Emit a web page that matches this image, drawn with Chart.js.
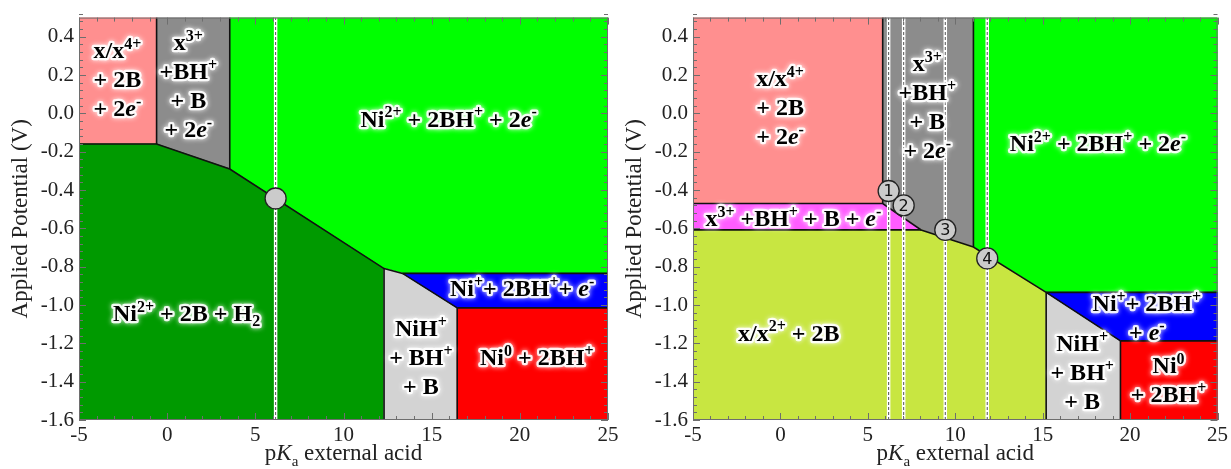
<!DOCTYPE html>
<html>
<head>
<meta charset="utf-8">
<script src="https://cdn.jsdelivr.net/npm/chart.js@4.4.1/dist/chart.umd.min.js"></script>
<style>
  html, body { margin: 0; padding: 0; background: #ffffff; }
  #wrap { position: relative; width: 1231px; height: 469px; overflow: hidden; }
  #wrap canvas { position: absolute; left: 0; top: 0; }
</style>
</head>
<body>
<div id="wrap">
  <canvas id="chartLeft" width="1231" height="469"></canvas>
  <canvas id="chartRight" width="1231" height="469"></canvas>
</div>
<script>
// ---- axes ----------------------------------------------------------------
const X_MIN = -5, X_MAX = 25;          // pKa of the external acid
const Y_MIN = -1.6, Y_MAX = 0.5;       // applied potential, V
const xTickValues = [-5, 0, 5, 10, 15, 20, 25];
const yTickValues = [-1.6, -1.4, -1.2, -1.0, -0.8, -0.6, -0.4, -0.2, 0.0, 0.2, 0.4];

// ---- left diagram: phase regions as [pKa, V] vertices ---------------------
const leftPink      = [[-5, 0.5], [-0.6, 0.5], [-0.6, -0.16], [-5, -0.16]];
const leftGray      = [[-0.6, 0.5], [3.55, 0.5], [3.55, -0.29], [-0.6, -0.16]];
const leftGreen     = [[3.55, 0.5], [25, 0.5], [25, -0.835], [13.35, -0.835], [12.3, -0.81], [3.55, -0.29]];
const leftDarkGreen = [[-5, -0.16], [-0.6, -0.16], [3.55, -0.29], [12.3, -0.81], [12.3, -1.6], [-5, -1.6]];
const leftLightGray = [[12.3, -0.81], [13.35, -0.835], [16.45, -1.015], [16.45, -1.6], [12.3, -1.6]];
const leftBlue      = [[13.35, -0.835], [25, -0.835], [25, -1.015], [16.45, -1.015]];
const leftRed       = [[16.45, -1.015], [25, -1.015], [25, -1.6], [16.45, -1.6]];

const leftBoundaries = [
  [[-0.6, 0.5], [-0.6, -0.16]],
  [[-5, -0.16], [-0.6, -0.16], [3.55, -0.29], [12.3, -0.81], [13.35, -0.835], [16.45, -1.015]],
  [[3.55, 0.5], [3.55, -0.29]],
  [[12.3, -0.81], [12.3, -1.6]],
  [[13.35, -0.835], [25, -0.835]],
  [[16.45, -1.015], [25, -1.015]],
  [[16.45, -1.015], [16.45, -1.6]]
];

const leftMarkerPKa = [6.15];
const leftMarkerV   = [-0.444];
const leftMarkerTag = [''];

// ---- right diagram ---------------------------------------------------------
const rightPink       = [[-5, 0.5], [5.85, 0.5], [5.85, -0.47], [-5, -0.47]];
const rightGray       = [[5.85, 0.5], [11.04, 0.5], [11.04, -0.697], [8.05, -0.608], [5.85, -0.47]];
const rightMagenta    = [[-5, -0.47], [5.85, -0.47], [8.05, -0.608], [-5, -0.608]];
const rightGreen      = [[11.04, 0.5], [25, 0.5], [25, -0.934], [15.2, -0.934], [11.04, -0.697]];
const rightYellow     = [[-5, -0.608], [8.05, -0.608], [11.04, -0.697], [15.2, -0.934], [15.2, -1.6], [-5, -1.6]];
const rightLightGray  = [[15.2, -0.934], [19.45, -1.187], [19.45, -1.6], [15.2, -1.6]];
const rightBlue       = [[15.2, -0.934], [25, -0.934], [25, -1.187], [19.45, -1.187]];
const rightRed        = [[19.45, -1.187], [25, -1.187], [25, -1.6], [19.45, -1.6]];

const rightBoundaries = [
  [[5.85, 0.5], [5.85, -0.47]],
  [[-5, -0.47], [5.85, -0.47], [8.05, -0.608], [11.04, -0.697], [15.2, -0.934], [19.45, -1.187]],
  [[-5, -0.608], [8.05, -0.608]],
  [[11.04, 0.5], [11.04, -0.697]],
  [[15.2, -0.934], [25, -0.934]],
  [[15.2, -0.934], [15.2, -1.6]],
  [[19.45, -1.187], [25, -1.187]],
  [[19.45, -1.187], [19.45, -1.6]]
];

const rightMarkerPKa = [6.19, 7.05, 9.43, 11.83];
const rightMarkerV   = [-0.405, -0.48, -0.608, -0.757];
const rightMarkerTag = ['1', '2', '3', '4'];

// ---- region names (rich text: ^{} superscript, _{} subscript, *..* italic) --
const leftLabels = [
  { x: -2.82, y: 0.179,  lines: ['x/x^{4+}', '+ 2B', '+ 2*e*^{-}'] },
  { x: 1.2,   y: 0.143,  lines: ['x^{3+}', '+BH^{+}', '+ B', '+ 2*e*^{-}'] },
  { x: 15.96, y: -0.027, lines: ['Ni^{2+} + 2BH^{+} + 2*e*^{-}'] },
  { x: 1.10,  y: -1.041, lines: ['Ni^{2+} + 2B + H_{2}'] },
  { x: 20.13, y: -0.912, lines: ['Ni^{+}+ 2BH^{+}+ *e*^{-}'] },
  { x: 14.39, y: -1.273, lines: ['NiH^{+}', '+ BH^{+}', '+ B'] },
  { x: 20.96, y: -1.273, lines: ['Ni^{0} + 2BH^{+}'] }
];
const rightLabels = [
  { x: -0.02, y: 0.035,  lines: ['x/x^{4+}', '+ 2B', '+ 2*e*^{-}'] },
  { x: 8.40,  y: 0.035,  lines: ['x^{3+}', '+BH^{+}', '+ B', '+ 2*e*^{-}'] },
  { x: 18.16, y: -0.156, lines: ['Ni^{2+} + 2BH^{+} + 2*e*^{-}'] },
  { x: 0.74,  y: -0.548, lines: ['x^{3+} +BH^{+} + B + *e*^{-}'] },
  { x: 0.475, y: -1.144, lines: ['x/x^{2+} + 2B'] },
  { x: 20.96, y: -1.067, lines: ['Ni^{+}+ 2BH^{+}', '+ *e*^{-}'] },
  { x: 17.26, y: -1.352, lines: ['NiH^{+}', '+ BH^{+}', '+ B'] },
  { x: 22.2,  y: -1.388, lines: ['Ni^{0}', '+ 2BH^{+}'] }
];

// ---- styling -----------------------------------------------------------------
const SERIF = '"Liberation Serif", "Times New Roman", serif';
const COLORS = {
  pink: '#ff8f8f', gray: '#8c8c8c', green: '#00ff00', darkGreen: '#009a00',
  lightGray: '#d3d3d3', blue: '#0000ff', red: '#ff0000',
  magenta: '#ff5cff', yellowGreen: '#c8e641',
  edge: '#111111', frame: '#6e6e6e'
};
const LABEL_SIZE = 24;
const LINE_GAP = 29;

const toXY = pts => pts.map(([x, y]) => ({ x, y }));

function regionSet(pts, color) {
  return {
    type: 'line', data: toXY(pts.concat([pts[0]])),
    backgroundColor: color, borderColor: color, borderWidth: 1,
    fill: 'shape', pointRadius: 0, tension: 0
  };
}
function edgeSet(pts) {
  return {
    type: 'line', data: toXY(pts), borderColor: COLORS.edge, borderWidth: 1.6,
    fill: false, pointRadius: 0, tension: 0
  };
}
function guideSets(xs) {
  const out = [];
  xs.forEach(x => {
    const pts = [[x, Y_MIN], [x, Y_MAX]];
    out.push({ type: 'line', data: toXY(pts), borderColor: '#ffffff', borderWidth: 3.5,
               fill: false, pointRadius: 0 });
    out.push({ type: 'line', data: toXY(pts), borderColor: '#555555', borderWidth: 1,
               borderDash: [3, 2], fill: false, pointRadius: 0 });
  });
  return out;
}
function markerSet(xs, ys) {
  return {
    type: 'line', showLine: false, data: xs.map((x, i) => ({ x, y: ys[i] })),
    pointRadius: 10.5, pointBackgroundColor: '#cbcbcb', pointBorderColor: '#222222',
    pointBorderWidth: 1.3, clip: false
  };
}

// Rich text ----------------------------------------------------------------
function parseRich(s) {
  const segs = [];
  let i = 0;
  while (i < s.length) {
    const c = s[i];
    if ((c === '^' || c === '_') && s[i + 1] === '{') {
      const j = s.indexOf('}', i);
      segs.push({ t: s.slice(i + 2, j), pos: c === '^' ? 'sup' : 'sub' });
      i = j + 1;
    } else if (c === '*') {
      const j = s.indexOf('*', i + 1);
      segs.push({ t: s.slice(i + 1, j), pos: 'base', it: true });
      i = j + 1;
    } else {
      let j = i;
      while (j < s.length && !((s[j] === '^' || s[j] === '_') && s[j + 1] === '{') && s[j] !== '*') j++;
      segs.push({ t: s.slice(i, j), pos: 'base' });
      i = j;
    }
  }
  return segs;
}

function drawRich(ctx, str, cx, cy, size) {
  const segs = parseRich(str);
  const small = Math.round(size * 0.68);
  const fontOf = sg => (sg.it ? 'italic ' : '') + 'bold ' + (sg.pos === 'base' ? size : small) + 'px ' + SERIF;
  let total = 0;
  segs.forEach(sg => { ctx.font = fontOf(sg); sg.w = ctx.measureText(sg.t).width; total += sg.w; });
  const base = cy + size * 0.33;
  const yOf = sg => sg.pos === 'sup' ? base - size * 0.38 : sg.pos === 'sub' ? base + size * 0.2 : base;
  ctx.textAlign = 'left';
  ctx.textBaseline = 'alphabetic';
  // soft white halo
  ctx.save();
  ctx.shadowColor = 'rgba(255,255,255,0.95)';
  ctx.shadowBlur = 5;
  ctx.strokeStyle = 'rgba(255,255,255,0.9)';
  ctx.lineWidth = 4.5;
  ctx.lineJoin = 'round';
  let x = cx - total / 2;
  segs.forEach(sg => { ctx.font = fontOf(sg); ctx.strokeText(sg.t, x, yOf(sg)); x += sg.w; });
  ctx.restore();
  ctx.fillStyle = '#000000';
  x = cx - total / 2;
  segs.forEach(sg => { ctx.font = fontOf(sg); ctx.fillText(sg.t, x, yOf(sg)); x += sg.w; });
}

// Plugins ------------------------------------------------------------------
const frameTicks = {
  id: 'frameTicks',
  afterDatasetsDraw(chart) {
    const { ctx, chartArea: a, scales: { x, y } } = chart;
    ctx.save();
    ctx.strokeStyle = COLORS.frame;
    ctx.lineWidth = 1;
    ctx.beginPath();
    for (let k = 0; k <= (X_MAX - X_MIN); k++) {
      const v = X_MIN + k;
      const px = Math.round(x.getPixelForValue(v)) + 0.5;
      const len = (v % 5 === 0) ? 7 : 4;
      ctx.moveTo(px, a.bottom); ctx.lineTo(px, a.bottom - len);
      ctx.moveTo(px, a.top);    ctx.lineTo(px, a.top + len);
    }
    const nY = Math.round((Y_MAX - Y_MIN) / 0.04);
    for (let k = 0; k <= nY; k++) {
      const v = Y_MIN + k * 0.04;
      const py = Math.round(y.getPixelForValue(v)) + 0.5;
      const len = (k % 5 === 0) ? 7 : 4;
      ctx.moveTo(a.left, py);  ctx.lineTo(a.left + len, py);
      ctx.moveTo(a.right, py); ctx.lineTo(a.right - len, py);
    }
    ctx.stroke();
    ctx.strokeRect(a.left + 0.5, a.top + 0.5, a.width - 1, a.height - 1);
    ctx.restore();
  }
};

const regionText = {
  id: 'regionText',
  afterDraw(chart, args, opts) {
    const { ctx, chartArea: a, scales: { x, y } } = chart;
    ctx.save();
    (opts.labels || []).forEach(lb => {
      const cx = x.getPixelForValue(lb.x);
      const cy = y.getPixelForValue(lb.y);
      const n = lb.lines.length;
      lb.lines.forEach((ln, i) => drawRich(ctx, ln, cx, cy + (i - (n - 1) / 2) * LINE_GAP, LABEL_SIZE));
    });
    // numbered markers
    ctx.fillStyle = '#111111';
    ctx.font = '16px "DejaVu Sans", sans-serif';
    ctx.textAlign = 'center';
    ctx.textBaseline = 'middle';
    (opts.tags || []).forEach(tg => {
      if (!tg.t) return;
      ctx.fillText(tg.t, x.getPixelForValue(tg.x), y.getPixelForValue(tg.y) + 1);
    });
    // axis titles
    ctx.fillStyle = '#222222';
    ctx.save();
    ctx.translate(a.left - 58, (a.top + a.bottom) / 2);
    ctx.rotate(-Math.PI / 2);
    ctx.font = '23px ' + SERIF;
    ctx.textAlign = 'center';
    ctx.textBaseline = 'middle';
    ctx.fillText('Applied Potential (V)', 0, 0);
    ctx.restore();
    const parts = [
      { t: 'p', f: '23px ' + SERIF, dy: 0 },
      { t: 'K', f: 'italic 23px ' + SERIF, dy: 0 },
      { t: 'a', f: '15px ' + SERIF, dy: 6 },
      { t: ' external acid', f: '23px ' + SERIF, dy: 0 }
    ];
    let w = 0;
    parts.forEach(p => { ctx.font = p.f; p.w = ctx.measureText(p.t).width; w += p.w; });
    let px = (a.left + a.right) / 2 - w / 2;
    ctx.textAlign = 'left';
    ctx.textBaseline = 'alphabetic';
    parts.forEach(p => { ctx.font = p.f; ctx.fillText(p.t, px, 460 + p.dy); px += p.w; });
    ctx.restore();
  }
};

function makeChart(canvasId, regions, boundaries, guidesX, mX, mY, tags, labels, pad, yWidth) {
  const layers = [];
  regions.forEach(r => layers.push(regionSet(r[0], r[1])));
  boundaries.forEach(b => layers.push(edgeSet(b)));
  guideSets(guidesX).forEach(g => layers.push(g));
  layers.push(markerSet(mX, mY));
  const datasets = layers.reverse();   // first dataset is painted last (on top)

  const tickFont = { family: SERIF, size: 21 };
  return new Chart(document.getElementById(canvasId), {
    type: 'line',
    data: { datasets },
    options: {
      responsive: false, animation: false, events: [],
      layout: { padding: pad },
      plugins: {
        legend: { display: false }, tooltip: { enabled: false },
        regionText: { labels, tags: mX.map((x, i) => ({ x, y: mY[i], t: tags[i] })) }
      },
      scales: {
        x: {
          type: 'linear', min: X_MIN, max: X_MAX,
          afterBuildTicks: s => { s.ticks = xTickValues.map(v => ({ value: v })); },
          afterFit: s => { s.height = 49; },
          grid: { display: false, drawTicks: false }, border: { display: false },
          ticks: { padding: 3, color: '#222222', font: tickFont, maxRotation: 0, autoSkip: false,
                   callback: v => String(v) }
        },
        y: {
          type: 'linear', min: Y_MIN, max: Y_MAX,
          afterBuildTicks: s => { s.ticks = yTickValues.map(v => ({ value: v })); },
          afterFit: s => { s.width = yWidth; },
          grid: { display: false, drawTicks: false }, border: { display: false },
          ticks: { padding: 5, color: '#222222', font: tickFont, autoSkip: false,
                   callback: v => (Math.abs(v) < 1e-9 ? 0 : v).toFixed(1) }
        }
      }
    },
    plugins: [frameTicks, regionText]
  });
}

makeChart('chartLeft',
  [[leftPink, COLORS.pink], [leftGray, COLORS.gray], [leftGreen, COLORS.green],
   [leftDarkGreen, COLORS.darkGreen], [leftLightGray, COLORS.lightGray],
   [leftBlue, COLORS.blue], [leftRed, COLORS.red]],
  leftBoundaries, leftMarkerPKa, leftMarkerPKa, leftMarkerV, leftMarkerTag, leftLabels,
  { left: 0, right: 623, top: 13, bottom: 0 }, 79);

makeChart('chartRight',
  [[rightPink, COLORS.pink], [rightGray, COLORS.gray], [rightMagenta, COLORS.magenta],
   [rightGreen, COLORS.green], [rightYellow, COLORS.yellowGreen],
   [rightLightGray, COLORS.lightGray], [rightBlue, COLORS.blue], [rightRed, COLORS.red]],
  rightBoundaries, rightMarkerPKa, rightMarkerPKa, rightMarkerV, rightMarkerTag, rightLabels,
  { left: 615, right: 12, top: 13, bottom: 0 }, 78);
</script>
</body>
</html>
